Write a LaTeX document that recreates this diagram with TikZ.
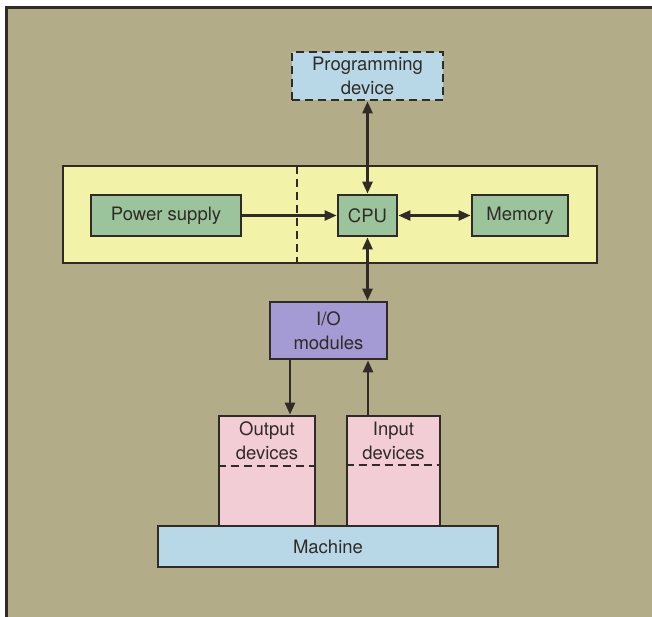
\documentclass[tikz,border=0pt]{standalone}
\usepackage{fontspec}
\setmainfont{TeX Gyre Heros}
\usetikzlibrary{arrows.meta}
\definecolor{bgk}{RGB}{178,173,136}
\definecolor{ink}{RGB}{48,43,38}
\definecolor{lblue}{RGB}{184,216,232}
\definecolor{lyel}{RGB}{242,242,168}
\definecolor{lgreen}{RGB}{156,196,156}
\definecolor{lpurp}{RGB}{164,154,212}
\definecolor{lpink}{RGB}{243,205,214}
\tikzset{
  box/.style={draw=ink, line width=2.8pt, rectangle, inner sep=0pt, text=ink,
    font=\fontsize{18.5}{24}\selectfont, align=center},
  conn/.style={draw=ink, line width=2.6pt, -{Triangle[length=12pt,width=10pt]}},
  biconn/.style={draw=ink, line width=2.6pt, {Triangle[length=12pt,width=10pt]}-{Triangle[length=12pt,width=10pt]}},
  dashline/.style={draw=ink, line width=2.8pt, dash pattern=on 8pt off 5pt},
  lbl/.style={text=ink, font=\fontsize{18.5}{24}\selectfont, align=center, inner sep=0pt}
}
\begin{document}
\begin{tikzpicture}[x=1pt,y=-1pt]
\useasboundingbox (0,0) rectangle (652,617);
\fill[white] (0,0) rectangle (652,617);
\fill[bgk] (6,8) rectangle (660,625);
\draw[ink, line width=3pt] (6,625) -- (6,8) -- (660,8);
% yellow box
\node[box, fill=lyel, minimum width=534, minimum height=97] (ctrl) at (330,214.5) {};
\draw[dashline] (297,166) -- (297,263);
% programming device
\node[box, fill=lblue, minimum width=151, minimum height=48, dash pattern=on 8pt off 5pt] (prog) at (367.5,76) {Programming\\device};
% power, cpu, memory
\node[box, fill=lgreen, minimum width=150, minimum height=41] (power) at (166,215.5) {Power supply};
\node[box, fill=lgreen, minimum width=59, minimum height=41] (cpu) at (367.5,215.5) {CPU};
\node[box, fill=lgreen, minimum width=96, minimum height=41] (mem) at (520,215.5) {Memory};
% io
\node[box, fill=lpurp, minimum width=117, minimum height=57] (io) at (328.5,330.5) {I/O\\modules};
% output / input devices
\node[box, fill=lpink, minimum width=96, minimum height=110] (outd) at (267,471) {};
\node[box, fill=lpink, minimum width=93, minimum height=110] (ind) at (393.5,471) {};
\node[lbl] (outl) at (267,441) {Output\\devices};
\node[lbl] (inl) at (393.5,441) {Input\\devices};
\draw[dashline] (outd.west |- 0,466) -- (outd.east |- 0,466);
\draw[dashline] (ind.west |- 0,465) -- (ind.east |- 0,465);
% machine
\node[box, fill=lblue, minimum width=340, minimum height=41] (mach) at (328,546.5) {Machine};
% connectors
\draw[biconn] (prog.south -| cpu.north) -- (cpu.north);
\draw[conn] (power.east) -- (cpu.west);
\draw[biconn] (cpu.east) -- (mem.west);
\draw[biconn] (cpu.south) -- (cpu.south |- io.north);
\draw[conn] (io.south -| 290,0) -- (outd.north -| 290,0);
\draw[conn] (ind.north -| 368,0) -- (io.south -| 368,0);
\end{tikzpicture}
\end{document}
